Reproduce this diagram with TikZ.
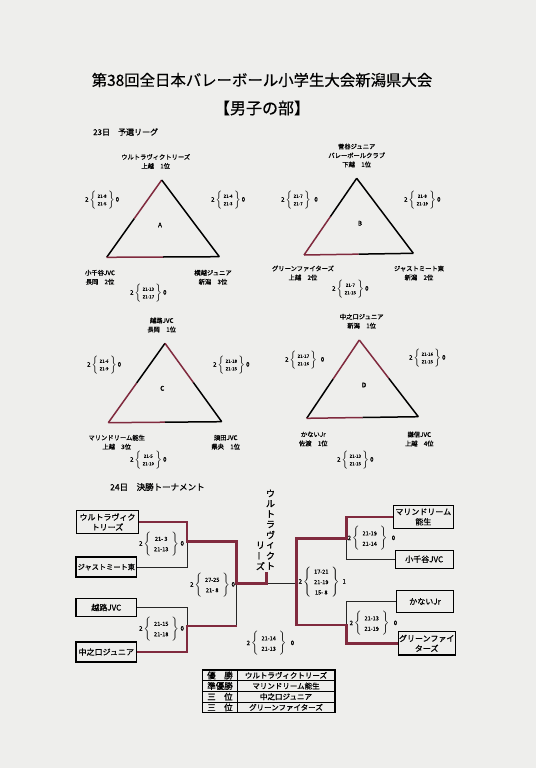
\documentclass[tikz,border=0pt]{standalone}
\usepackage{fontspec}
\newfontfamily\jp{Noto Sans CJK JP}[FakeBold=0.5]
\newfontfamily\jpb{Noto Sans CJK JP}[FakeBold=0.9]
\usetikzlibrary{calc}
\definecolor{paper}{RGB}{238,238,236}
\definecolor{mred}{RGB}{128,42,62}
\newcommand\tscore[4]{#1\,$\left\{\vcenter{\hbox{\fontsize{4.4}{5}\selectfont\renewcommand\arraystretch{1.5}\begin{tabular}{@{\hspace{1.5pt}}c@{\hspace{1.5pt}}}#2\\#3\end{tabular}}}\right\}$\,#4}
\newcommand\kscore[4]{#1\,$\left\{\vcenter{\hbox{\fontsize{5.6}{6.5}\selectfont\renewcommand\arraystretch{1.6}\begin{tabular}{@{\hspace{3pt}}c@{\hspace{3pt}}}#2\\#3\end{tabular}}}\right\}$\;#4}
\newcommand\kscorethree[5]{#1\,$\left\{\vcenter{\hbox{\fontsize{5.6}{6.5}\selectfont\renewcommand\arraystretch{1.6}\begin{tabular}{@{\hspace{3pt}}c@{\hspace{3pt}}}#2\\#3\\#4\end{tabular}}}\right\}$\;#5}
\begin{document}
\begin{tikzpicture}[x=1pt,y=-1pt,
  every node/.style={font=\jp, inner sep=0pt},
  lbl/.style={font=\jpb\fontsize{6.3}{9}\selectfont, align=center},
  tsc/.style={font=\jpb\fontsize{6}{7}\selectfont, anchor=west},
  ksc/.style={font=\jpb\fontsize{6}{7}\selectfont, anchor=west},
  tbox/.style={draw, line width=1.1pt, font=\jpb\fontsize{8}{10}\selectfont, align=center},
  redl/.style={draw=mred, line width=2.5pt},
  blkl/.style={draw=black!85, line width=0.9pt},
  tred/.style={draw=mred, line width=1.5pt},
  tblk/.style={draw=black, line width=1.5pt},
  vch/.style={font=\jpb\fontsize{9}{9}\selectfont},
]
\fill[paper] (0,0) rectangle (536,768);
\useasboundingbox (0,0) rectangle (536,768);

% titles
\node (title) at (262,80) {\fontsize{15.4}{18}\selectfont 第38回全日本バレーボール小学生大会新潟県大会};
\node (sub) at (262,108) {\fontsize{16}{18}\selectfont 【男子の部】};
\node[anchor=west, font=\jpb] (day1) at (93,132) {\fontsize{8}{9}\selectfont 23日　予選リーグ};
\node[anchor=west, font=\jpb] (day2) at (110,487) {\fontsize{8.5}{9}\selectfont 24日　決勝トーナメント};

% ---------- Group A
\coordinate (Aa) at (161.7,180); \coordinate (Al) at (106.7,257.3); \coordinate (Ar) at (219.3,256.7);
\draw[tred] (Aa) -- ($(Aa)!0.5!(Al)$); \draw[tblk] ($(Aa)!0.5!(Al)$) -- (Al);
\draw[tblk] (Aa) -- (Ar);
\draw[tred] (Al) -- ($(Al)!0.5!(Ar)$); \draw[tblk] ($(Al)!0.5!(Ar)$) -- (Ar);
\node[font=\jpb\fontsize{6.5}{7}\selectfont] (An) at (160,225) {A};
\node[lbl] (At) at (155.7,161.5) {ウルトラヴィクトリーズ\\上越　1位};
\node[lbl] (Abl) at (100,277.3) {小千谷JVC\\長岡　2位};
\node[lbl] (Abr) at (213,277.3) {横越ジュニア\\新潟　3位};
\node[tsc] (As1) at (85,200) {\tscore{2}{21-8}{21-5}{0}};
\node[tsc] (As2) at (211,200) {\tscore{2}{21-4}{21-3}{0}};
\node[tsc] (As3) at (130,293) {\tscore{2}{21-13}{21-17}{0}};

% ---------- Group B
\coordinate (Ba) at (356.7,178.3); \coordinate (Bl) at (304,255); \coordinate (Br) at (413.3,253.3);
\draw[tblk] (Ba) -- ($(Ba)!0.5!(Bl)$); \draw[tred] ($(Ba)!0.5!(Bl)$) -- (Bl);
\draw[tblk] (Ba) -- (Br);
\draw[tred] (Bl) -- ($(Bl)!0.5!(Br)$); \draw[tblk] ($(Bl)!0.5!(Br)$) -- (Br);
\node[font=\jpb\fontsize{6.5}{7}\selectfont] (Bn) at (360,223.3) {B};
\node[lbl] (Bt) at (356.7,155.5) {菅谷ジュニア\\バレーボールクラブ\\下越　1位};
\node[lbl] (Bbl) at (303,273) {グリーンファイターズ\\上越　2位};
\node[lbl] (Bbr) at (419,273) {ジャストミート東\\新潟　2位};
\node[tsc] (Bs1) at (281,200) {\tscore{2}{21-7}{21-7}{\ \ 0}};
\node[tsc] (Bs2) at (404,200) {\tscore{2}{21-8}{21-19}{0}};
\node[tsc] (Bs3) at (332,289) {\tscore{2}{21-7}{21-15}{0}};

% ---------- Group C
\coordinate (Ca) at (165,343.3); \coordinate (Cl) at (108.3,422.7); \coordinate (Cr) at (221.7,421.7);
\draw[tblk] (Ca) -- ($(Ca)!0.5!(Cl)$); \draw[tred] ($(Ca)!0.5!(Cl)$) -- (Cl);
\draw[tred] (Ca) -- ($(Ca)!0.5!(Cr)$); \draw[tblk] ($(Ca)!0.5!(Cr)$) -- (Cr);
\draw[tred] (Cl) -- ($(Cl)!0.5!(Cr)$); \draw[tblk] ($(Cl)!0.5!(Cr)$) -- (Cr);
\node[font=\jpb\fontsize{6.5}{7}\selectfont] (Cn) at (162.3,388.3) {C};
\node[lbl] (Ct) at (161.7,325) {越路JVC\\長岡　1位};
\node[lbl] (Cbl) at (116.7,442.2) {マリンドリーム能生\\上越　3位};
\node[lbl] (Cbr) at (225.7,442.2) {須田JVC\\県央　1位};
\node[tsc] (Cs1) at (87,365) {\tscore{2}{21-6}{21-9}{0}};
\node[tsc] (Cs2) at (213,365) {\tscore{2}{21-18}{21-15}{0}};
\node[tsc] (Cs3) at (130,460) {\tscore{2}{21-5}{21-10}{0}};

% ---------- Group D
\coordinate (Da) at (359.3,340); \coordinate (Dl) at (306.7,418.3); \coordinate (Dr) at (418.3,416.7);
\draw[tred] (Da) -- ($(Da)!0.5!(Dl)$); \draw[tblk] ($(Da)!0.5!(Dl)$) -- (Dl);
\draw[tred] (Da) -- ($(Da)!0.5!(Dr)$); \draw[tblk] ($(Da)!0.5!(Dr)$) -- (Dr);
\draw[tred] (Dl) -- ($(Dl)!0.5!(Dr)$); \draw[tblk] ($(Dl)!0.5!(Dr)$) -- (Dr);
\node[font=\jpb\fontsize{6.5}{7}\selectfont] (Dn) at (364,385) {D};
\node[lbl] (Dt) at (361.7,321.2) {中之口ジュニア\\新潟　1位};
\node[lbl] (Dbl) at (313.3,439) {かないJr\\佐渡　1位};
\node[lbl] (Dbr) at (419.3,439) {謙信JVC\\上越　4位};
\node[tsc] (Ds1) at (285,360) {\tscore{2}{21-17}{21-16}{\ \ 0}};
\node[tsc] (Ds2) at (409,358) {\tscore{2}{21-16}{21-15}{0}};
\node[tsc] (Ds3) at (337,460) {\tscore{2}{21-13}{21-15}{0}};

% ---------- Tournament boxes
\node[tbox, minimum width=61.6pt, minimum height=23.4pt] (L1) at (107.5,522) {ウルトラヴィク\\トリーズ};
\node[tbox, minimum width=60.7pt, minimum height=20pt, font=\jpb\fontsize{7.2}{9}\selectfont] (L2) at (106.3,567) {ジャストミート東};
\node[tbox, minimum width=60.7pt, minimum height=18.3pt] (L3) at (106.3,607.5) {越路JVC};
\node[tbox, minimum width=60.7pt, minimum height=20pt] (L4) at (106.3,652) {中之口ジュニア};
\node[tbox, minimum width=60pt, minimum height=22.3pt] (R1) at (423.3,517) {マリンドリーム\\能生};
\node[tbox, minimum width=58.3pt, minimum height=18.3pt] (R2) at (424.2,559.3) {小千谷JVC};
\node[tbox, minimum width=56.6pt, minimum height=21.7pt] (R3) at (425,601.5) {かないJr};
\node[tbox, minimum width=56.7pt, minimum height=23.3pt] (R4) at (426.7,643.3) {グリーンファイ\\ターズ};

% junction coordinates
\coordinate (j1) at (187,541.7);
\coordinate (j2) at (187,626);
\coordinate (j3) at (236.7,583.3);
\coordinate (fin) at (266.7,583.3);
\coordinate (finTop) at (266.7,571.7);
\coordinate (k1) at (346.3,538.3);
\coordinate (k2) at (346.3,625);
\coordinate (k3) at (296.7,583.3);

% left side
\draw[blkl] (L2.east) -| (j1);
\draw[blkl] (L3.east) -| (j2);
\draw[blkl] (j3) -- (j3 |- j2);
\draw[blkl] (fin) -- (k3);
\draw[redl] (L1.east) -| (j1) -- (j1 -| j3) -- (j3) -- (fin) -- (finTop);
\draw[redl] (L4.east) -| (j2) -- (j2 -| j3);
% right side
\draw[blkl] (R2.west) -| (k1);
\draw[blkl] (R3.west) -| (k2);
\draw[redl] (R1.west) -| (k1) -- (k1 -| k3) -- (k3);
\draw[redl] (R4.west) -| (k2) -- (k2 -| k3) -- (k3);

% tournament scores
\node[ksc] (S1) at (139,544) {\kscore{2}{21- 3}{21-13}{0}};
\node[ksc] (S2) at (139,629) {\kscore{2}{21-15}{21-18}{0}};
\node[ksc] (S3) at (190,585) {\kscore{2}{27-25}{21- 8}{0}};
\node[ksc] (S4) at (347.5,538.5) {\kscore{2}{21-19}{21-14}{\ \ 0}};
\node[ksc] (S5) at (298.5,582) {\kscorethree{2}{17-21}{21-19}{15- 8}{\ 1}};
\node[ksc] (S6) at (349.5,623.5) {\kscore{2}{21-13}{21-19}{\ \ 0}};
\node[ksc] (S7) at (246.5,643.5) {\kscore{2}{21-14}{21-13}{\ \ 0}};

% champion vertical label
\foreach \c [count=\i] in {ウ,ル,ト,ラ,ヴ,ィ,ク,ト}
  \node[vch] (v\i) at (270.5,{493.3+10.4*(\i-1)}) {\c};
\node[vch] (w1) at (260.5,545.3) {リ};
\node[vch, rotate=90] (w2) at (260.5,555.7) {ー};
\node[vch] (w3) at (260.5,566.1) {ズ};

% results table
\draw[line width=1.2pt] (202.7,670) rectangle (335,712.7);
\foreach \yy in {680.7,691.3,702} \draw[line width=0.7pt] (202.7,\yy) -- (335,\yy);
\draw[line width=0.7pt] (237.3,670) -- (237.3,712.7);
\node[font=\jpb\fontsize{8.5}{9}\selectfont] (t1a) at (220,675.4) {優　勝};
\node[font=\jpb\fontsize{8.5}{9}\selectfont] (t2a) at (220,686) {準優勝};
\node[font=\jpb\fontsize{8.5}{9}\selectfont] (t3a) at (220,696.7) {三　位};
\node[font=\jpb\fontsize{8.5}{9}\selectfont] (t4a) at (220,707.4) {三　位};
\node[font=\jpb\fontsize{7.5}{9}\selectfont] (t1b) at (286,675.4) {ウルトラヴィクトリーズ};
\node[font=\jpb\fontsize{7.5}{9}\selectfont] (t2b) at (286,686) {マリンドリーム能生};
\node[font=\jpb\fontsize{7.5}{9}\selectfont] (t3b) at (286,696.7) {中之口ジュニア};
\node[font=\jpb\fontsize{7.5}{9}\selectfont] (t4b) at (286,707.4) {グリーンファイターズ};
\end{tikzpicture}
\end{document}
